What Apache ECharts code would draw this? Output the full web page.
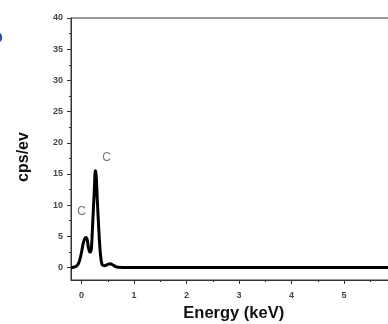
<!DOCTYPE html>
<html>
<head>
<meta charset="utf-8">
<script src="https://cdn.jsdelivr.net/npm/echarts@6/dist/echarts.min.js"></script>
<style>
  html, body { margin: 0; padding: 0; background: #fff; }
  #chart { width: 388px; height: 324px; }
</style>
</head>
<body>
<div id="chart"></div>
<script>
// EDS spectrum: energy (keV) vs counts per second per eV
const energy = [-0.2, -0.15, -0.1, -0.06, -0.03, 0.0, 0.03, 0.06, 0.09, 0.11, 0.13, 0.15, 0.17, 0.19, 0.21, 0.23, 0.245, 0.26, 0.27, 0.285, 0.3, 0.32, 0.34, 0.36, 0.38, 0.4, 0.44, 0.5, 0.55, 0.6, 0.65, 0.7, 0.8, 1.0, 1.5, 2.0, 2.5, 3.0, 3.5, 4.0, 4.5, 5.0, 5.5, 6.0];
const counts = [0.0, 0.05, 0.2, 0.6, 1.3, 2.4, 3.8, 4.6, 4.8, 4.4, 3.3, 2.6, 2.5, 3.2, 6.5, 10.0, 12.5, 15.5, 15.4, 14.0, 11.0, 7.6, 4.5, 2.2, 0.9, 0.4, 0.3, 0.5, 0.6, 0.4, 0.15, 0.05, 0.02, 0.0, 0.0, 0.0, 0.0, 0.0, 0.0, 0.0, 0.0, 0.0, 0.0, 0.0];

// peak annotations
const peakLabels = ['C', 'C'];
const peakX = [0.0, 0.48];
const peakY = [9.0, 17.6];

// axis ticks
const xTicks = [0, 1, 2, 3, 4, 5, 6];
const xMinorTicks = [0.5, 1.5, 2.5, 3.5, 4.5, 5.5];
const yTicks = [0, 5, 10, 15, 20, 25, 30, 35, 40];
const yMinorTicks = [2.5, 7.5, 12.5, 17.5, 22.5, 27.5, 32.5, 37.5];

const xRange = [-0.2, 6.0];
const yRange = [-2, 40];

const labelFont = { fontFamily: 'Liberation Sans, Arial, sans-serif', fontWeight: 'bold', fontSize: 9, color: '#444' };

const chart = echarts.init(document.getElementById('chart'), null, { renderer: 'canvas' });

chart.setOption({
  animation: false,
  backgroundColor: '#ffffff',
  grid: {
    left: 71, top: 18, width: 325.5, height: 262,
    outerBoundsMode: 'none',
    containLabel: false,
    show: true, borderColor: '#333', borderWidth: 1
  },
  xAxis: [
    {
      type: 'value', min: xRange[0], max: xRange[1], position: 'bottom',
      name: 'Energy (keV)', nameLocation: 'middle', nameGap: 25,
      nameTextStyle: { fontFamily: 'Liberation Sans, Arial, sans-serif', fontWeight: 'bold', fontSize: 16.5, color: '#111' },
      axisLine: { show: true, onZero: false, lineStyle: { color: '#333', width: 1 } },
      axisTick: { show: true, customValues: xTicks, length: 4, lineStyle: { color: '#333' } },
      axisLabel: Object.assign({ customValues: xTicks, margin: 11 }, labelFont),
      splitLine: { show: false }
    },
    {
      type: 'value', min: xRange[0], max: xRange[1], position: 'bottom',
      axisLine: { show: false, onZero: false },
      axisTick: { show: true, customValues: xMinorTicks, length: 2, lineStyle: { color: '#333' } },
      axisLabel: { show: false },
      splitLine: { show: false }
    }
  ],
  yAxis: [
    {
      type: 'value', min: yRange[0], max: yRange[1], position: 'left',
      name: 'cps/ev', nameLocation: 'middle', nameGap: 39,
      nameTextStyle: { fontFamily: 'Liberation Sans, Arial, sans-serif', fontWeight: 'bold', fontSize: 16, color: '#111', padding: [0, 16, 0, 0] },
      axisLine: { show: true, onZero: false, lineStyle: { color: '#333', width: 1 } },
      axisTick: { show: true, customValues: yTicks, length: 4, lineStyle: { color: '#333' } },
      axisLabel: Object.assign({ customValues: yTicks, margin: 8 }, labelFont),
      splitLine: { show: false }
    },
    {
      type: 'value', min: yRange[0], max: yRange[1], position: 'left',
      axisLine: { show: false, onZero: false },
      axisTick: { show: true, customValues: yMinorTicks, length: 2, lineStyle: { color: '#333' } },
      axisLabel: { show: false },
      splitLine: { show: false }
    }
  ],
  series: [
    {
      type: 'line',
      xAxisIndex: 0, yAxisIndex: 0,
      data: energy.map((e, i) => [e, counts[i]]),
      showSymbol: false,
      smooth: 0.2,
      lineStyle: { color: '#000', width: 3 },
      z: 3
    },
    {
      type: 'scatter',
      xAxisIndex: 0, yAxisIndex: 0,
      data: peakX.map((x, i) => ({ value: [x, peakY[i]], name: peakLabels[i] })),
      symbolSize: 0,
      label: {
        show: true, position: 'inside',
        formatter: p => p.name,
        fontFamily: 'Liberation Sans, Arial, sans-serif', fontSize: 12, color: '#555'
      }
    }
  ],
  graphic: [
    {
      type: 'text', left: -7, top: 30,
      style: { text: 'b', fill: '#2b4fa8', font: 'bold 16px Liberation Sans, Arial, sans-serif' }
    }
  ]
});
</script>
</body>
</html>
